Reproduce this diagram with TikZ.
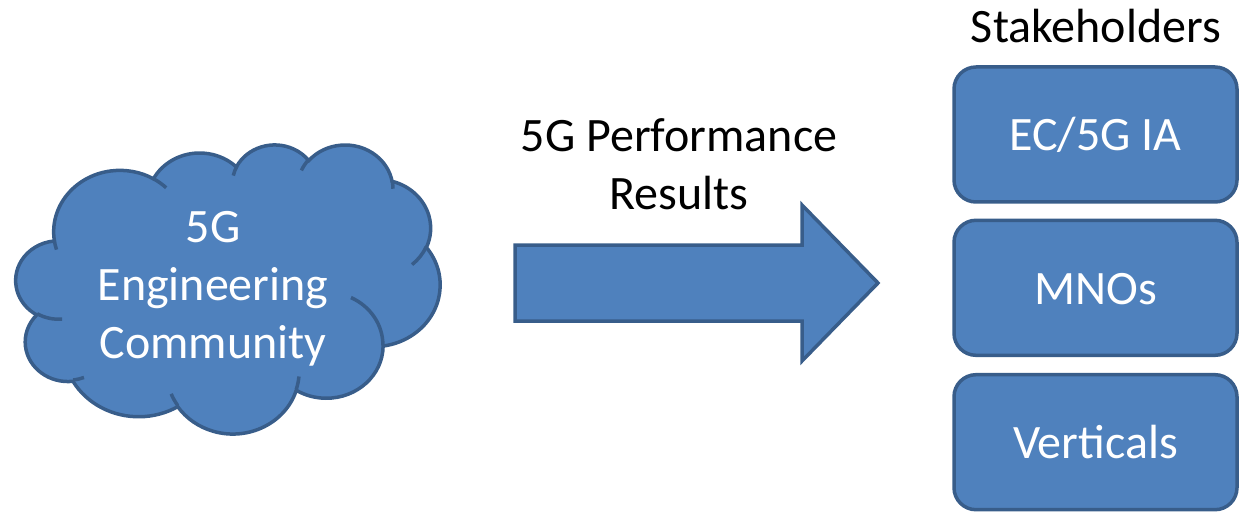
\documentclass[tikz,border=0pt]{standalone}
\usepackage{fontspec}
\setmainfont{Carlito}
\definecolor{boxfill}{HTML}{4F81BD}
\definecolor{boxline}{HTML}{385D8A}

% Elliptic arc given by radii and visual start/sweep angles (degrees),
% converted to the parametric angles that TikZ's arc expects.
\newcommand\cloudarc[5]{%
  \pgfmathsetmacro\cloudtA{atan2((#2)*sin(#4),(#3)*cos(#4))}%
  \pgfmathsetmacro\cloudtB{atan2((#2)*sin((#4)+(#5)),(#3)*cos((#4)+(#5)))}%
  \pgfmathsetmacro\cloudtB{\cloudtB<\cloudtA ? \cloudtB+360 : \cloudtB}%
  \expandafter\xdef\csname Cloud#1\endcsname{arc[start angle=\cloudtA, end angle=\cloudtB, x radius=#2, y radius=#3]}%
}

\begin{document}
\begin{tikzpicture}[x=1pt,y=-1pt,
  shapefill/.style={fill=boxfill,draw=boxline,line width=3.5pt},
  bigfont/.style={font=\fontsize{48}{58}\selectfont},
  headtext/.style={bigfont,inner sep=0pt,text=black},
  stakebox/.style={shapefill,rectangle,rounded corners=22pt,
    minimum width=283pt,minimum height=135pt,inner sep=0pt,
    text=white,bigfont,text height=33pt,text depth=0pt}]

\useasboundingbox (0,0) rectangle (1239,513);

% outer outline of the cloud
\cloudarc{OA}{67.53}{91.90}{-190.4875}{123.7805}
\cloudarc{OB}{53.33}{72.67}{-144.1024}{89.9452}
\cloudarc{OC}{43.65}{59.45}{-145.8079}{99.7230}
\cloudarc{OD}{48.57}{65.95}{-130.9861}{117.2417}
\cloudarc{OE}{53.33}{72.73}{-78.7089}{109.0269}
\cloudarc{OF}{67.75}{92.20}{-46.2673}{130.2690}
\cloudarc{OG}{57.85}{78.67}{0.6250}{114.0333}
\cloudarc{OH}{67.52}{92.15}{22.4516}{115.1726}
\cloudarc{OI}{77.20}{105.43}{66.2426}{75.7110}
\cloudarc{OJ}{43.60}{59.18}{-274.9421}{146.7356}
\cloudarc{OK}{43.45}{59.45}{-246.8285}{152.5189}
% inner puff lines
\cloudarc{IA}{43.45}{59.45}{86.7420}{26.4295}
\cloudarc{IB}{43.60}{59.18}{73.6105}{11.4475}
\cloudarc{IC}{67.52}{92.15}{137.6242}{14.0811}
\cloudarc{ID}{67.52}{92.15}{6.4533}{15.9984}
\cloudarc{IE}{57.85}{78.67}{-70.2924}{70.9174}
\cloudarc{IF}{53.33}{72.73}{30.3180}{27.7515}
\cloudarc{IG}{48.57}{65.95}{-13.7443}{14.8589}
\cloudarc{IH}{48.57}{65.95}{-149.1815}{18.1954}
\cloudarc{II}{43.65}{59.45}{-163.4943}{17.6864}
\cloudarc{IJ}{67.53}{91.90}{-66.7070}{12.3194}
\cloudarc{IK}{67.53}{91.90}{157.6544}{11.8582}

\begin{scope}[shift={(16,144)},x=0.98148pt,y=-0.66898pt]
  \path[shapefill] (39,143.7) \CloudOA \CloudOB \CloudOC \CloudOD \CloudOE
    \CloudOF \CloudOG \CloudOH \CloudOI \CloudOJ \CloudOK -- cycle;
  \draw[boxline,line width=3.5pt]
    (46.93,261.77) \CloudIA
    (69.28,348.99) \CloudIB
    (164.78,390.90) \CloudIC
    (288.27,347.51) \CloudID
    (341.29,229.54) \CloudIE
    (417.98,153.54) \CloudIF
    (383.24,54.26) \CloudIG
    (290.78,39.52) \CloudIH
    (221.41,47.20) \CloudII
    (140.00,51.92) \CloudIJ
    (41.27,157.89) \CloudIK;
\end{scope}
\node (cloud) at (213,289) [bigfont,text=white,align=center,inner sep=0pt]
  {5G\\Engineering\\Community};

% block arrow
\path[shapefill] (515,245) -- (802,245) -- (802,205) -- (878,283)
  -- (802,361) -- (802,321) -- (515,321) -- cycle;
\node (perf) at (679,164) [headtext,align=center] {5G Performance\\Results};

% stakeholder boxes
\node (stake) at (1096,43) [headtext,anchor=base] {Stakeholders};
\node (ec)   at (1095.5,134.5) [stakebox] {EC/5G IA};
\node (mno)  at (1095.5,287.8) [stakebox] {MNOs};
\node (vert) at (1095.5,442.2) [stakebox] {Verticals};
\end{tikzpicture}
\end{document}
